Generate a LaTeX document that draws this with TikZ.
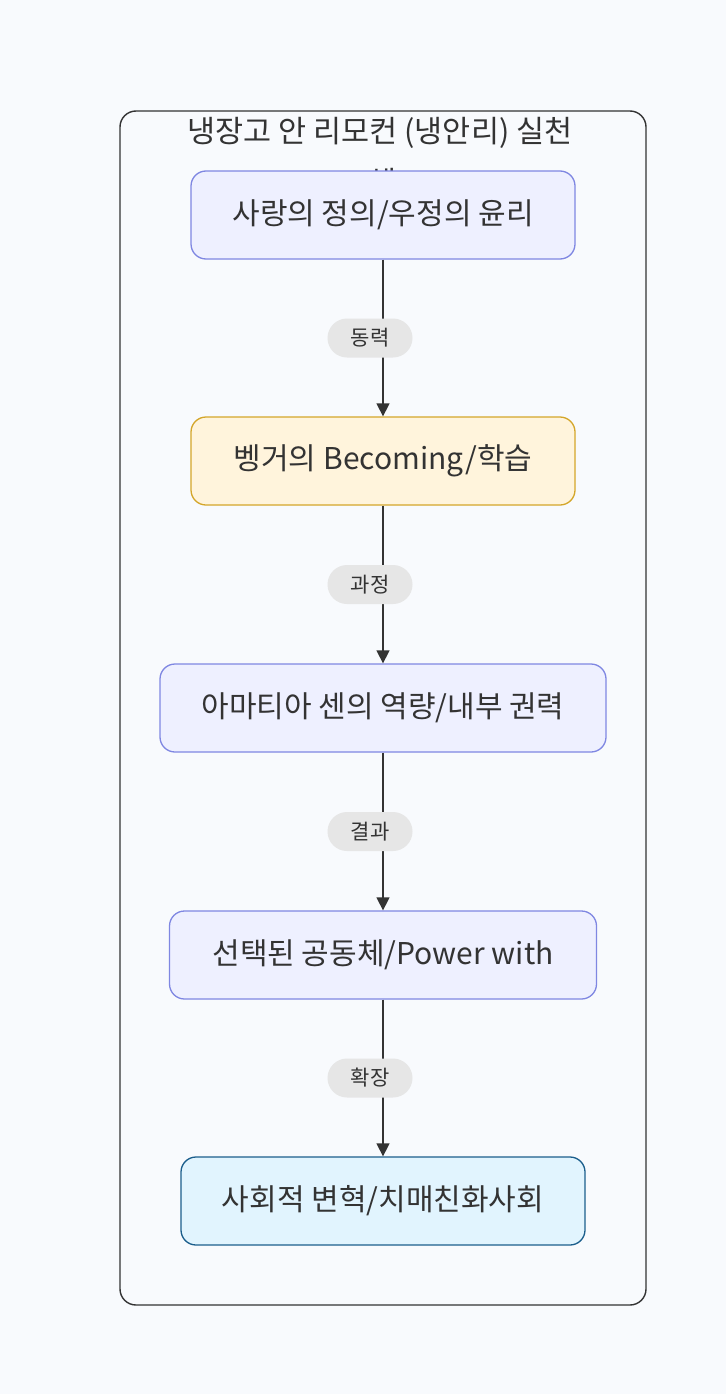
\documentclass[tikz,border=0pt]{standalone}
\usepackage{fontspec}
\setmainfont{Noto Sans CJK KR}
\usetikzlibrary{arrows.meta}
\definecolor{bg}{HTML}{F8FAFD}
\definecolor{txt}{HTML}{333333}
\definecolor{lavfill}{HTML}{EEF0FF}
\definecolor{lavline}{HTML}{7F87E2}
\definecolor{yelfill}{HTML}{FFF4DC}
\definecolor{yelline}{HTML}{D4A62A}
\definecolor{bluefill}{HTML}{E1F4FE}
\definecolor{blueline}{HTML}{1B5E8C}
\definecolor{pill}{HTML}{E6E6E6}
\tikzset{
  x=1pt, y=-1pt,
  stepbox/.style={draw, rounded corners=15pt, line width=1.3pt, minimum height=88pt, inner sep=0pt, font=\fontsize{30}{36}\selectfont, text=txt},
  lav/.style={stepbox, fill=lavfill, draw=lavline},
  yel/.style={stepbox, fill=yelfill, draw=yelline},
  blu/.style={stepbox, fill=bluefill, draw=blueline},
  elabel/.style={fill=pill, rounded corners=19.5pt, minimum width=85pt, minimum height=39pt, inner sep=0pt, xshift=-13pt, font=\fontsize{21}{24}\selectfont, text=txt},
  conn/.style={draw=txt, line width=1.4pt, -{Triangle[length=13pt,width=13pt]}}
}
\begin{document}
\begin{tikzpicture}
\fill[bg] (0,0) rectangle (726,1394);
\useasboundingbox (0,0) rectangle (726,1394);
\node[draw=txt, line width=1.4pt, rounded corners=16pt, minimum width=526pt, minimum height=1194pt, inner sep=0pt] (frame) at (383,708) {};
\node[font=\fontsize{30.5}{36}\selectfont, text=txt] (title) at (380,133) {냉장고 안 리모컨 (냉안리) 실천};
\node[font=\fontsize{30.5}{36}\selectfont, text=txt] (title2) at (383,182) {체};
\node[lav, minimum width=384pt] (a) at (383,215) {사랑의 정의/우정의 윤리};
\node[yel, minimum width=384pt] (b) at (383,461) {벵거의 Becoming/학습};
\node[lav, minimum width=446pt] (c) at (383,708) {아마티아 센의 역량/내부 권력};
\node[lav, minimum width=427pt] (d) at (383,955) {선택된 공동체/Power with};
\node[blu, minimum width=404pt] (e) at (383,1201) {사회적 변혁/치매친화사회};
\draw[conn] (a) -- node[elabel] (l1) {동력} (b);
\draw[conn] (b) -- node[elabel] (l2) {과정} (c);
\draw[conn] (c) -- node[elabel] (l3) {결과} (d);
\draw[conn] (d) -- node[elabel] (l4) {확장} (e);
\end{tikzpicture}
\end{document}
